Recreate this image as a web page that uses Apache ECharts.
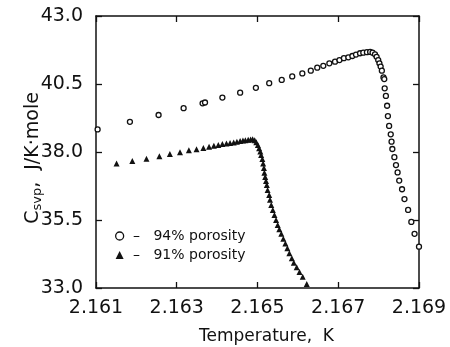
<!DOCTYPE html>
<html>
<head>
<meta charset="utf-8">
<script src="https://cdn.jsdelivr.net/npm/echarts@6/dist/echarts.min.js"></script>
<style>
  html, body { margin: 0; padding: 0; background: #fff; }
  #chart { width: 450px; height: 347px; }
</style>
</head>
<body>
<div id="chart"></div>
<script>
// axis ticks
const xTicks = [2.161, 2.163, 2.165, 2.167, 2.169];
const yTicks = [33.0, 35.5, 38.0, 40.5, 43.0];

// 94% porosity (open circles)
const t94 = [2.16104, 2.16184, 2.16255, 2.16317, 2.16364, 2.16370, 2.16413, 2.16457, 2.16496, 2.16529,
  2.16560, 2.16586, 2.16611, 2.16632, 2.16648, 2.16663, 2.16678, 2.16692, 2.16703, 2.16714,
  2.16725, 2.16735, 2.16744, 2.16754, 2.16762, 2.16771, 2.16779, 2.16785, 2.16791, 2.16795,
  2.16799, 2.16802, 2.16805, 2.16808, 2.16812, 2.16814, 2.16815, 2.16818, 2.16821, 2.16823,
  2.16826, 2.16830, 2.16832, 2.16834, 2.16839, 2.16843, 2.16847, 2.16851, 2.16858, 2.16864,
  2.16873, 2.16881, 2.16889, 2.16900];
const c94 = [38.83, 39.11, 39.36, 39.61, 39.79, 39.82, 40.00, 40.18, 40.36, 40.53,
  40.65, 40.78, 40.89, 40.99, 41.10, 41.17, 41.26, 41.32, 41.38, 41.45,
  41.48, 41.53, 41.58, 41.63, 41.65, 41.67, 41.68, 41.65, 41.59, 41.50,
  41.38, 41.26, 41.14, 40.99, 40.74, 40.68, 40.34, 40.06, 39.70, 39.32,
  38.96, 38.65, 38.38, 38.11, 37.81, 37.52, 37.25, 36.95, 36.63, 36.27,
  35.87, 35.43, 34.99, 34.52];

// 91% porosity (filled triangles)
const t91 = [2.16151, 2.16190, 2.16225, 2.16257, 2.16283, 2.16308, 2.16330, 2.16349, 2.16366, 2.16380,
  2.16392, 2.16403, 2.16413, 2.16423, 2.16432, 2.16441, 2.16449, 2.16457, 2.16464, 2.16470,
  2.16477, 2.16483, 2.16488, 2.16493, 2.16497, 2.16501, 2.16504, 2.16507, 2.16509, 2.16512,
  2.16514, 2.16516, 2.16517, 2.16519, 2.16521, 2.16523, 2.16525, 2.16529, 2.16531, 2.16534,
  2.16538, 2.16542, 2.16546, 2.16550, 2.16554, 2.16559, 2.16564, 2.16569, 2.16574, 2.16579,
  2.16585, 2.16590, 2.16597, 2.16604, 2.16612, 2.16622];
const c91 = [37.58, 37.67, 37.75, 37.84, 37.93, 37.99, 38.06, 38.10, 38.15, 38.19,
  38.23, 38.26, 38.29, 38.31, 38.33, 38.35, 38.38, 38.40, 38.42, 38.43,
  38.45, 38.46, 38.47, 38.43, 38.36, 38.26, 38.14, 38.02, 37.89, 37.74,
  37.58, 37.41, 37.24, 37.08, 36.93, 36.79, 36.60, 36.42, 36.24, 36.05,
  35.87, 35.68, 35.50, 35.32, 35.16, 34.99, 34.81, 34.64, 34.46, 34.28,
  34.09, 33.93, 33.76, 33.59, 33.41, 33.15];

const font = 'DejaVu Sans';
const ink = '#111';
const chart = echarts.init(document.getElementById('chart'));

const pairs = (xs, ys) => xs.map((x, i) => [x, ys[i]]);

const xBase = {
  type: 'value',
  min: xTicks[0],
  max: xTicks[xTicks.length - 1],
  interval: 0.002,
  axisLine: { show: true, onZero: false, lineStyle: { color: ink, width: 1.5 } },
  axisTick: { show: true, inside: true, length: 6, lineStyle: { color: ink, width: 1.3 } },
  splitLine: { show: false }
};
const yBase = {
  type: 'value',
  min: yTicks[0],
  max: yTicks[yTicks.length - 1],
  interval: 2.5,
  axisLine: { show: true, onZero: false, lineStyle: { color: ink, width: 1.5 } },
  axisTick: { show: true, inside: true, length: 6, lineStyle: { color: ink, width: 1.3 } },
  splitLine: { show: false }
};

chart.setOption({
  backgroundColor: '#fff',
  animation: false,
  grid: { left: 96, right: 31, top: 16, bottom: 59, outerBoundsMode: 'none' },
  xAxis: [
    Object.assign({}, xBase, {
      position: 'bottom',
      name: 'Temperature,  K',
      nameLocation: 'middle',
      nameGap: 40,
      nameMoveOverlap: false,
      nameTextStyle: { fontFamily: font, fontSize: 17, color: ink, padding: [0, 0, 0, 18] },
      axisLabel: {
        color: ink, fontFamily: font, fontSize: 19, margin: 11,
        formatter: v => v.toFixed(3)
      }
    }),
    Object.assign({}, xBase, { position: 'top', axisLabel: { show: false } })
  ],
  yAxis: [
    Object.assign({}, yBase, {
      position: 'left',
      name: '{c|C}{s|svp}{c|,  J/K·mole}',
      nameLocation: 'middle',
      nameGap: 52,
      nameMoveOverlap: false,
      nameTextStyle: {
        color: ink,
        padding: [0, 12, 0, 0],
        rich: {
          c: { fontFamily: font, fontSize: 19, color: ink },
          s: { fontFamily: font, fontSize: 13, color: ink, padding: [9, 0, 0, 0] }
        }
      },
      axisLabel: {
        color: ink, fontFamily: font, fontSize: 19, margin: 13,
        formatter: v => v.toFixed(1)
      }
    }),
    Object.assign({}, yBase, { position: 'right', axisLabel: { show: false } })
  ],
  legend: {
    orient: 'vertical',
    left: 110,
    top: 224,
    itemWidth: 8,
    itemHeight: 8,
    itemGap: 5,
    textStyle: { fontFamily: font, fontSize: 14, color: ink },
    formatter: name => ' –   ' + name,
    data: [
      { name: '94% porosity', icon: 'circle', itemStyle: { color: '#fff', borderColor: ink, borderWidth: 1.3 } },
      { name: '91% porosity', icon: 'triangle', itemStyle: { color: ink, borderWidth: 0 } }
    ]
  },
  series: [
    {
      name: '94% porosity',
      type: 'scatter',
      symbol: 'circle',
      symbolSize: 5,
      clip: false,
      itemStyle: { color: '#fff', borderColor: ink, borderWidth: 1.3, opacity: 1 },
      data: pairs(t94, c94)
    },
    {
      name: '91% porosity',
      type: 'scatter',
      symbol: 'triangle',
      symbolSize: 6,
      clip: false,
      itemStyle: { color: ink, opacity: 1 },
      data: pairs(t91, c91)
    }
  ]
});
</script>
</body>
</html>
